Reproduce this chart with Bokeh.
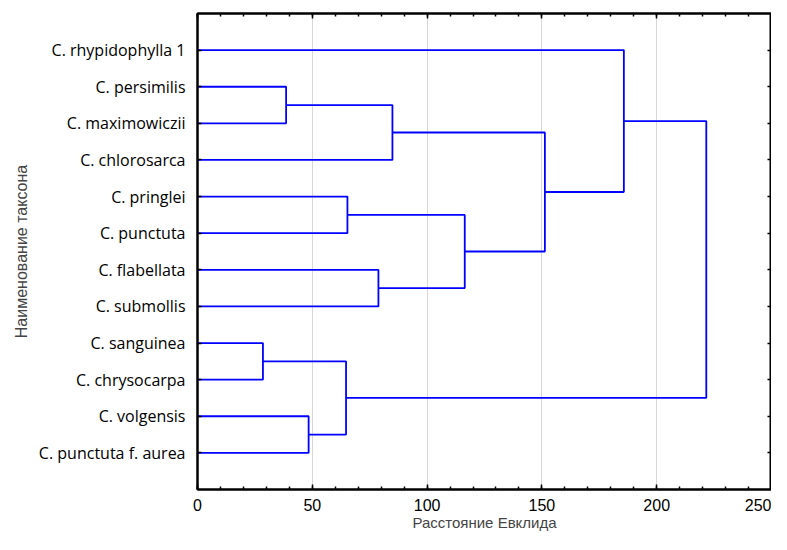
from bokeh.plotting import figure
from bokeh.models import Range1d, FixedTicker, LinearAxis, SingleIntervalTicker
from bokeh.embed import file_html
from bokeh.resources import INLINE

leaves = ["C. rhypidophylla 1", "C. persimilis", "C. maximowiczii", "C. chlorosarca",
          "C. pringlei", "C. punctuta", "C. flabellata", "C. submollis",
          "C. sanguinea", "C. chrysocarpa", "C. volgensis", "C. punctuta f. aurea"]

# linkage: (node_a, node_b, distance); nodes 0..11 are leaves, 12+ are clusters
merge_a = [1, 12, 4, 6, 14, 13, 0, 8, 10, 19, 18]
merge_b = [2, 3, 5, 7, 15, 16, 17, 9, 11, 20, 21]
merge_h = [38.6, 84.9, 65.3, 78.8, 116.4, 151.3, 185.7, 28.5, 48.4, 64.7, 221.6]

x_ticks = [0, 50, 100, 150, 200, 250]

n = len(leaves)
pos = {i: (0.0, float(i + 1)) for i in range(n)}  # (x, y)
xs, ys = [], []
for k, (a, b, h) in enumerate(zip(merge_a, merge_b, merge_h)):
    xa_, ya_ = pos[a]
    xb_, yb_ = pos[b]
    xs.append([xa_, h, h, xb_])
    ys.append([ya_, ya_, yb_, yb_])
    pos[n + k] = (h, (ya_ + yb_) / 2.0)

p = figure(width=771, height=534, output_backend="svg", toolbar_location=None,
           x_range=Range1d(0, 250), y_range=Range1d(13, 0),
           min_border_left=197, min_border_right=0, min_border_top=13, min_border_bottom=45,
           x_axis_label="Расстояние Евклида", y_axis_label="Наименование таксона")

p.multi_line(xs, ys, line_color="#0000FF", line_width=1.8)

p.outline_line_color = "black"
p.outline_line_width = 2
p.background_fill_color = "white"
p.border_fill_color = "white"

# x axis
xa = p.xaxis[0]
xa.ticker = SingleIntervalTicker(interval=50, num_minor_ticks=5)
xa.axis_line_color = "black"
xa.axis_line_width = 2
xa.major_tick_in = 5
xa.major_tick_out = 0
xa.minor_tick_in = 3
xa.minor_tick_out = 0
xa.major_tick_line_width = 1.5
xa.minor_tick_line_width = 1.5
xa.major_label_standoff = 9
xa.major_label_text_font = "Liberation Sans"
xa.major_label_text_font_size = "16px"
xa.major_label_text_color = "black"
xa.axis_label_text_font = "Liberation Sans"
xa.axis_label_text_font_size = "15px"
xa.axis_label_text_font_style = "normal"
xa.axis_label_standoff = 0

# y axis
ya = p.yaxis[0]
ya.ticker = FixedTicker(ticks=list(range(1, n + 1)))
ya.major_label_overrides = {i + 1: leaves[i] for i in range(n)}
ya.axis_line_color = "black"
ya.axis_line_width = 2
ya.major_tick_in = 4
ya.major_tick_out = 0
ya.major_tick_line_width = 1.5
ya.minor_tick_line_color = None
ya.major_label_standoff = 12
ya.major_label_text_font = "Open Sans"
ya.major_label_text_font_size = "16px"
ya.major_label_text_color = "black"
ya.axis_label_text_font = "Liberation Sans"
ya.axis_label_text_font_size = "16px"
ya.axis_label_text_font_style = "normal"
ya.axis_label_standoff = 6

# top axis (ticks only, labels not drawn)
top = LinearAxis(ticker=SingleIntervalTicker(interval=50, num_minor_ticks=5),
                 major_label_text_font_size="0px", major_label_text_color=None,
                 major_label_standoff=0,
                 major_tick_in=5, major_tick_out=0, minor_tick_in=3, minor_tick_out=0,
                 major_tick_line_width=1.5, minor_tick_line_width=1.5,
                 axis_line_color="black", axis_line_width=2)
p.add_layout(top, "above")

right = LinearAxis(ticker=FixedTicker(ticks=list(range(1, n + 1))),
                   major_label_text_font_size="0px", major_label_text_color=None,
                   major_label_standoff=0,
                   major_tick_in=4, major_tick_out=0, minor_tick_line_color=None,
                   major_tick_line_width=1.5,
                   axis_line_color="black", axis_line_width=2)
p.add_layout(right, "right")

p.xgrid.ticker = FixedTicker(ticks=x_ticks)
p.xgrid.grid_line_color = "#d6d6d6"
p.xgrid.grid_line_width = 1
p.ygrid.grid_line_color = None

open("out.html", "w").write(file_html(p, INLINE))
